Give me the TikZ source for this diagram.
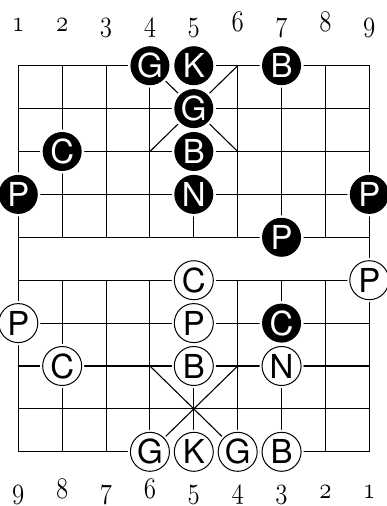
\documentclass[tikz,border=0pt]{standalone}
\usepackage{fontspec}
\newfontfamily\piecefont{TeX Gyre Heros}
\tikzset{
  piece/.style={circle, minimum size=39pt, inner sep=0pt,
    font=\fontsize{33pt}{33pt}\piecefont,
    preaction={draw=white, line width=5pt}},
  blackpiece/.style={piece, fill=black, text=white},
  whitepiece/.style={piece, fill=white, draw=black, line width=1pt},
  filenum/.style={anchor=base, font=\fontsize{32pt}{32pt}\selectfont}
}
\newcommand{\fnum}[1]{\scalebox{1}[1.2]{\usefont{OML}{lmm}{m}{it}#1}}
\begin{document}
\begin{tikzpicture}[x=43.875pt, y={(0,-42.9pt)}, line width=1.1pt]
  \useasboundingbox (-0.4171,-1.5315) rectangle (8.3806,10.2634);
  % board
  \draw (0,0) rectangle (8,9);
  \foreach \r in {1,...,8}
    \draw (0,\r) -- (8,\r);
  \foreach \c in {1,...,7} {
    \draw (\c,0) -- (\c,4);
    \draw (\c,5) -- (\c,9);
  }
  \draw (3,0) -- (5,2) (5,0) -- (3,2);
  \draw (3,7) -- (5,9) (5,7) -- (3,9);
  % file numbers
  \foreach \c [evaluate=\c as \d using int(10-\c)] in {1,...,9} {
    \node[filenum] (top\c) at (\c-1,-0.7925) {\fnum{\c}};
    \node[filenum] (bot\c) at (\c-1,10.077) {\fnum{\d}};
  }
  % black side
  \node[blackpiece] (bG1) at (3,0) {G};
  \node[blackpiece] (bK)  at (4,0) {K};
  \node[blackpiece] (bB1) at (6,0) {B};
  \node[blackpiece] (bG2) at (4,1) {G};
  \node[blackpiece] (bC1) at (1,2) {C};
  \node[blackpiece] (bB2) at (4,2) {B};
  \node[blackpiece] (bP1) at (0,3) {P};
  \node[blackpiece] (bN)  at (4,3) {N};
  \node[blackpiece] (bP2) at (8,3) {P};
  \node[blackpiece] (bP3) at (6,4) {P};
  \node[blackpiece] (bC2) at (6,6) {C};
  % white side
  \node[whitepiece] (wC1) at (4,5) {C};
  \node[whitepiece] (wP1) at (8,5) {P};
  \node[whitepiece] (wP2) at (0,6) {P};
  \node[whitepiece] (wP3) at (4,6) {P};
  \node[whitepiece] (wC2) at (1,7) {C};
  \node[whitepiece] (wB1) at (4,7) {B};
  \node[whitepiece] (wN)  at (6,7) {N};
  \node[whitepiece] (wG1) at (3,9) {G};
  \node[whitepiece] (wK)  at (4,9) {K};
  \node[whitepiece] (wG2) at (5,9) {G};
  \node[whitepiece] (wB2) at (6,9) {B};
\end{tikzpicture}
\end{document}
